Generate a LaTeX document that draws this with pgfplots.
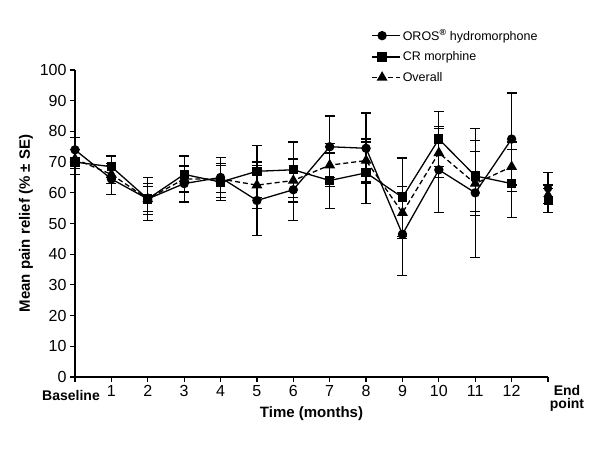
\documentclass[border=0pt]{standalone}
\usepackage{fontspec}
\setmainfont{Liberation Sans}
\usepackage{pgfplots}
\pgfplotsset{compat=1.18}
\usepackage{pgfplotstable}

\pgfplotstableread{
x y e
0 74 4
1 64.5 5
2 58 7
3 63 6
4 65 6.5
5 57.5 11.5
6 61 10
7 75 10
8 74.5 11.5
9 46.5 13.5
10 67.5 14
11 60 21
12 77.5 15
}\oros
\pgfplotstableread{
x y e
13 61.5 5
}\orosend
\pgfplotstableread{
x y e
0 70 4
1 68.5 3.5
2 58 5
3 66 6
4 63.5 6
5 67 8.5
6 67.5 9
7 64 9
8 66.5 10
9 58.5 12.8
10 77.5 9
11 65.5 11.5
12 63 11
}\crm
\pgfplotstableread{
x y e
13 57.5 4
}\crmend
\pgfplotstableread{
x y e
0 71 3
1 66 3
2 58 4
3 64.5 4
4 64.5 4.5
5 62.5 7.5
6 64 7
7 69 7
8 70.5 7
9 53.5 8.5
10 73 8
11 63 10.5
12 68.5 8
}\overall
\pgfplotstableread{
x y e
13 59.5 3
}\overallend

\begin{document}
\begin{tikzpicture}
\begin{axis}[
  scale only axis,
  width=473pt, height=307pt,
  xmin=0, xmax=13, ymin=0, ymax=100,
  clip=false,
  axis x line=bottom, axis y line=left,
  axis line style={-, line width=1.5pt},
  tick align=outside,
  major tick length=5pt,
  tick style={line width=1.2pt, black},
  xtick={0,...,13},
  xticklabels={{\rule{0pt}{15pt}\bfseries\fontsize{14}{16}\selectfont Baseline\hspace*{8pt}},1,2,3,4,5,6,7,8,9,10,11,12,{\hspace*{38pt}\bfseries\fontsize{14}{16}\selectfont\shortstack{End\\point}}},
  ytick={0,10,...,100},
  /pgf/number format/assume math mode=true,
  tick label style={font=\fontsize{16}{18}\selectfont},
  xticklabel style={font=\fontsize{16}{18}\selectfont},
  xlabel={\textbf{Time (months)}},
  ylabel={\textbf{Mean pain relief (\% ± SE)}},
  label style={font=\fontsize{15}{17}\selectfont},
  xlabel style={yshift=12pt},
  legend style={draw=none, fill=none, at={(0.62,1.145)}, anchor=north west,
    font=\fontsize{12.5}{15}\selectfont, row sep=6pt, legend cell align=left},
  legend image code/.code={\draw[mark repeat=2,mark phase=2] plot coordinates {(0pt,0pt) (10pt,0pt) (20pt,0pt)}; \path (0pt,0pt) -- (28pt,0pt);},
  error bars/y dir=both, error bars/y explicit,
  error bars/error bar style={line width=1.3pt, black},
  error bars/error mark options={rotate=90, mark size=5pt, line width=1.3pt, black},
]
\addplot[black, line width=1.3pt, mark=*, mark size=4pt] table[x=x,y=y,y error=e]{\oros};
\addlegendentry{OROS\textsuperscript{\textbf{®}} hydromorphone}
\addplot[black, line width=1.3pt, mark=square*, mark size=4pt] table[x=x,y=y,y error=e]{\crm};
\addlegendentry{CR morphine}
\addplot[black, line width=1.3pt, dash pattern=on 5pt off 3pt, mark=triangle*, mark size=5pt, mark options={solid}] table[x=x,y=y,y error=e]{\overall};
\addlegendentry{Overall}
\addplot[black, only marks, mark=*, mark size=4pt, forget plot] table[x=x,y=y,y error=e]{\orosend};
\addplot[black, only marks, mark=square*, mark size=4pt, forget plot] table[x=x,y=y,y error=e]{\crmend};
\addplot[black, only marks, mark=triangle*, mark size=5pt, forget plot] table[x=x,y=y,y error=e]{\overallend};
\end{axis}
\path (-75pt,-73pt) rectangle (525pt,377pt);
\end{tikzpicture}
\end{document}
